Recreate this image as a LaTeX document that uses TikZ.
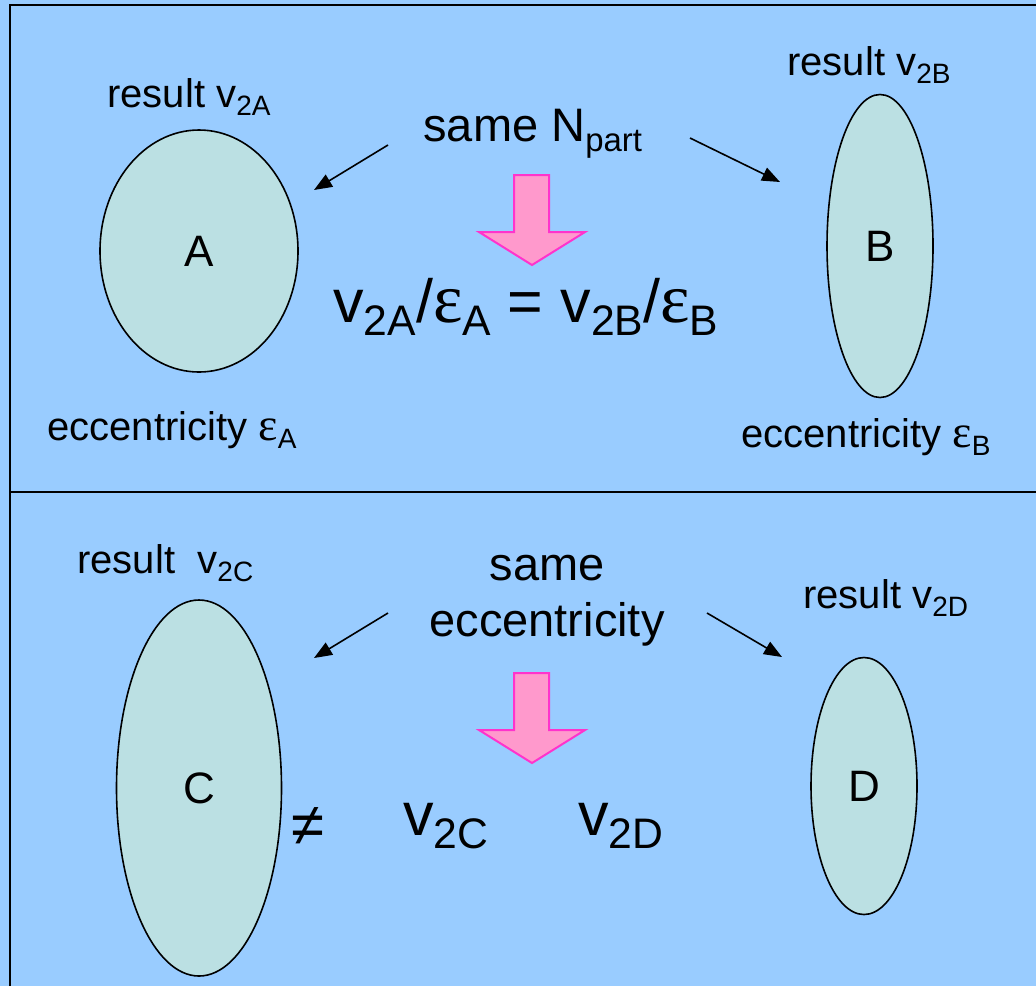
\documentclass[tikz,border=0pt]{standalone}
\usepackage{fontspec}
\setmainfont{Liberation Sans}
\newfontfamily\greekfont{Liberation Serif}
\usepackage{tikz}
\usetikzlibrary{arrows.meta,shapes.geometric}
\definecolor{bgblue}{HTML}{99CCFF}
\definecolor{blobfill}{HTML}{BBE0E3}
\definecolor{pinkfill}{HTML}{FF99CC}
\definecolor{pinkline}{HTML}{FF33CC}
\newcommand{\lo}[1]{\raisebox{-0.22em}{\scalebox{0.7}{#1}}}
\newcommand{\eps}{\scalebox{1.15}{\greekfont ε}}

\begin{document}
\begin{tikzpicture}[x=0.5pt,y=-0.5pt,>={Triangle[length=9pt,width=7pt]},
  every node/.style={font=\fontsize{20pt}{24pt}\selectfont,inner sep=0pt},
  blob/.style={ellipse,draw,line width=0.8pt,fill=blobfill,font=\fontsize{22pt}{26pt}\selectfont},
  txt/.style={anchor=base west},
  big/.style={font=\fontsize{23.5pt}{28pt}\selectfont},
  huge/.style={anchor=base west,font=\fontsize{30.5pt}{36pt}\selectfont},
  pointer/.style={->,line width=0.8pt},
  downarrow/.style={draw=pinkline,fill=pinkfill,line width=1pt,line join=miter}]
\fill[bgblue] (0,0) rectangle (1036,986);
\useasboundingbox (0,0) rectangle (1036,986);
\draw[line width=1pt] (10,986) -- (10,5) -- (1036,5);
\draw[line width=1pt] (10,492) -- (1036,492);
% upper panel: same Npart
\node[blob,minimum width=99pt,minimum height=121pt] (A) at (199,251) {A};
\node[blob,minimum width=53pt,minimum height=151.5pt] (B) at (880,246) {B};
\node[txt] (resA) at (107,107) {result v\lo{2A}};
\node[txt] (resB) at (787,75) {result v\lo{2B}};
\node[txt,big] (npart) at (423,141) {same N\lo{part}};
\node[txt] (eccA) at (47,440) {eccentricity \eps\lo{A}};
\node[txt] (eccB) at (741,447) {eccentricity \eps\lo{B}};
\node[huge] (ratio) at (333,322) {v\lo{2A}/\eps\lo{A} = v\lo{2B}/\eps\lo{B}};
\coordinate (pA1) at (388,145); \coordinate (pA2) at (314,190);
\coordinate (pB1) at (690,138); \coordinate (pB2) at (780,182);
\draw[pointer] (pA1) -- (pA2);
\draw[pointer] (pB1) -- (pB2);
% lower panel: same eccentricity
\node[blob,minimum width=82.5pt,minimum height=188pt] (C) at (199,788) {C};
\node[blob,minimum width=53pt,minimum height=128.5pt] (D) at (864,786) {D};
\node[txt] (resC) at (77,573) {result \ v\lo{2C}};
\node[txt] (resD) at (803,608) {result v\lo{2D}};
\node[big,anchor=base] (same) at (547,580) {same};
\node[big,anchor=base] (ecc) at (547,636) {eccentricity};
\node[font=\fontsize{30pt}{36pt}\selectfont] (neq) at (308,826) {≠};
\node[huge] (vC) at (403,835) {v\lo{2C}};
\node[huge] (vD) at (578,835) {v\lo{2D}};
\coordinate (pC1) at (388,613); \coordinate (pC2) at (314,658);
\coordinate (pD1) at (707,613); \coordinate (pD2) at (782,657);
\draw[pointer] (pC1) -- (pC2);
\draw[pointer] (pD1) -- (pD2);
% pink arrows
\foreach \y in {175,673}
  \draw[downarrow] (514,\y) -- ++(35,0) -- ++(0,57) -- ++(36,0) -- ++(-53,33) -- ++(-53,-33) -- ++(35,0) -- cycle;
\end{tikzpicture}
\end{document}
